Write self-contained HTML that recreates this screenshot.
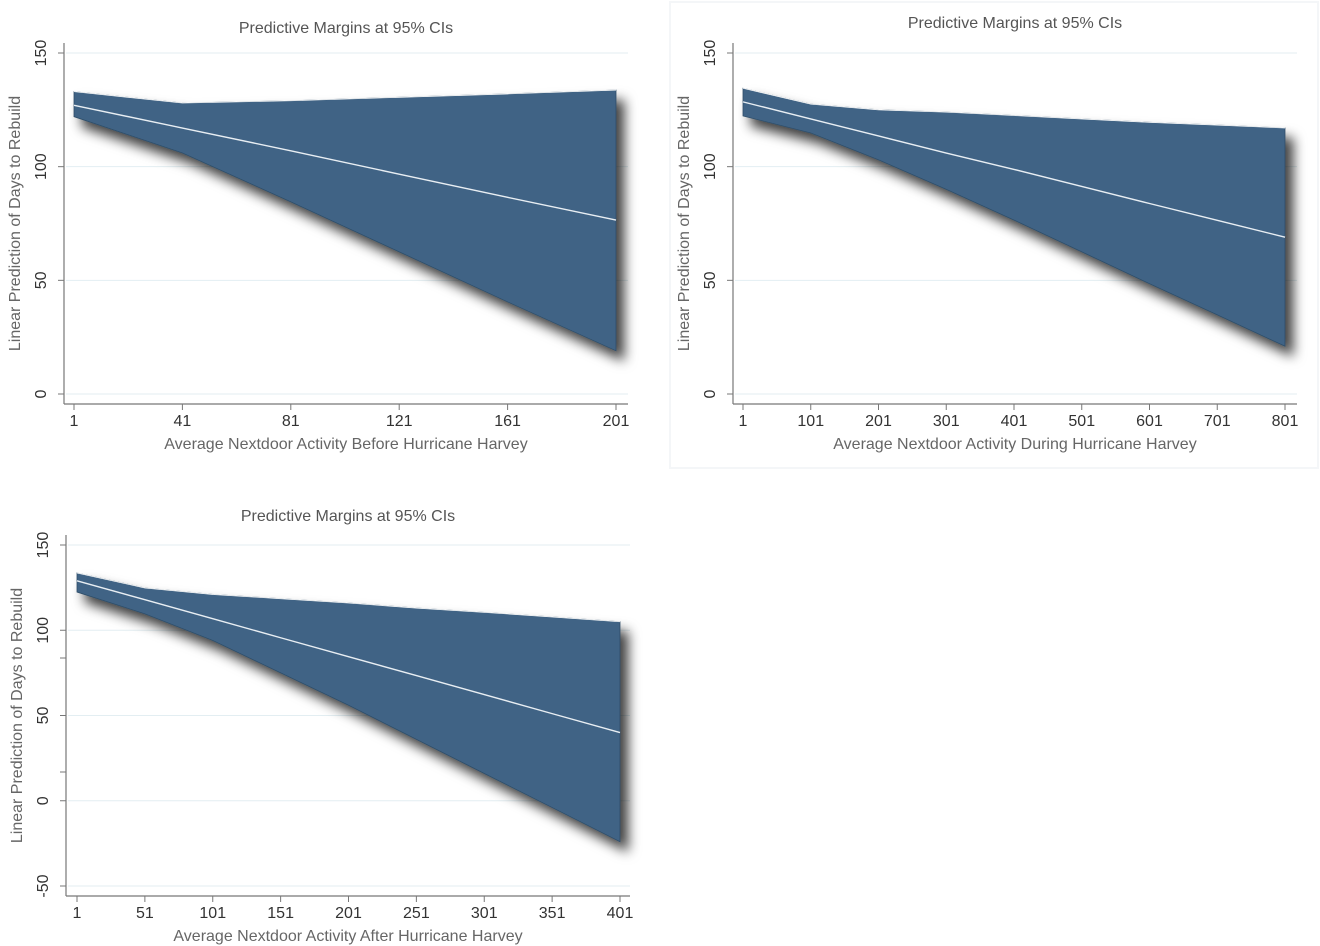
<!DOCTYPE html>
<html><head><meta charset="utf-8">
<style>
html,body{margin:0;padding:0;background:#fff;}
svg{display:block;font-family:"Liberation Sans",sans-serif;}
</style></head>
<body>
<svg id="chart" width="1320" height="946" viewBox="0 0 1320 946" xmlns="http://www.w3.org/2000/svg">
<defs>
<filter id="sh" x="-20%" y="-20%" width="150%" height="150%">
<feDropShadow dx="8" dy="10" stdDeviation="6" flood-color="#000" flood-opacity="0.75"/>
</filter>
</defs>
<rect x="670" y="2" width="648" height="466" fill="none" stroke="#f4f6f8" stroke-width="2"/>
</svg>
<script>
// Panel 1: Before
const p1X = [1, 41, 81, 121, 161, 201];
const p1Upper = [133, 128, 129, 130.5, 132, 133.7];
const p1Lower = [122, 106, 84.5, 62.5, 40.5, 19];
const p1Mid = [127, 117, 107, 96.7, 86.5, 76.5];
const p1Ticks = ["1","41","81","121","161","201"];
// Panel 2: During
const p2X = [1, 101, 201, 301, 401, 501, 601, 701, 801];
const p2Upper = [134.5, 127.5, 125, 124, 122.5, 121, 119.5, 118.3, 117];
const p2Lower = [122.3, 114.8, 103, 90, 76.5, 62.5, 48.5, 34.8, 21];
const p2Mid = [128.5, 121, 113.5, 106, 98.8, 91.3, 83.8, 76.4, 69];
const p2Ticks = ["1","101","201","301","401","501","601","701","801"];
// Panel 3: After
const p3X = [1, 51, 101, 151, 201, 251, 301, 351, 401];
const p3Upper = [133.6, 124.8, 121, 118.5, 116, 113, 110.5, 107.8, 105];
const p3Lower = [122.4, 109.6, 94, 75, 56, 36, 16, -4, -24];
const p3Mid = [129, 117.9, 106.8, 95.6, 84.5, 73.4, 62.3, 51.1, 40];
const p3Ticks = ["1","51","101","151","201","251","301","351","401"];
const yTicks12 = [0, 50, 100, 150];
const yTicks3 = [-50, 0, 50, 100, 150];

const NS = "http://www.w3.org/2000/svg";
const svg = document.getElementById('chart');
function mk(tag, attrs, parent){
  const e = document.createElementNS(NS, tag);
  for (const k in attrs) e.setAttribute(k, attrs[k]);
  (parent||svg).appendChild(e);
  return e;
}
function panel(cfg, xs, up, lo, mid, xt, yt, pname){
  const g = mk('g', {});
  
  
  const sx = v => cfg.x0 + (v - cfg.xmin) / (cfg.xmax - cfg.xmin) * (cfg.x1 - cfg.x0);
  const sy = v => cfg.y0 + (cfg.ymax - v) / (cfg.ymax - cfg.ymin) * (cfg.y1 - cfg.y0);
  yt.forEach(v => {
    const l = mk('line', {x1: cfg.ax + 2, x2: cfg.xend, y1: sy(v), y2: sy(v), stroke: '#e3eef2', 'stroke-width': 1}, g);
    
    
  });
  const t = mk('text', {x: (cfg.ax + cfg.xend)/2, y: cfg.titleY, 'text-anchor': 'middle', 'font-size': 16, fill: '#555'}, g);
  t.textContent = 'Predictive Margins at 95% CIs';
  
  
  let d = '';
  xs.forEach((v,i) => { d += (i ? 'L' : 'M') + sx(v) + ',' + sy(up[i]); });
  for (let i = xs.length - 1; i >= 0; i--) d += 'L' + sx(xs[i]) + ',' + sy(lo[i]);
  d += 'Z';
  const band = mk('path', {d: d, fill: '#3f6485', stroke: '#2f4d68', 'stroke-width': 0.8, filter: 'url(#sh)'}, g);
  
  
  let du = '';
  xs.forEach((v,i) => { du += (i ? 'L' : 'M') + sx(v) + ',' + sy(up[i]); });
  const ue = mk('path', {d: du, fill: 'none', stroke: '#ffffff', 'stroke-width': 0.8}, g);
  
  
  let dm = '';
  xs.forEach((v,i) => { dm += (i ? 'L' : 'M') + sx(v) + ',' + sy(mid[i]); });
  const ml = mk('path', {d: dm, fill: 'none', stroke: '#e8eef3', 'stroke-width': 1.4}, g);
  
  
  const ya = mk('line', {x1: cfg.ax, x2: cfg.ax, y1: cfg.axTop, y2: cfg.axY, stroke: '#777', 'stroke-width': 1.2}, g);
  
  
  const xa = mk('line', {x1: cfg.ax, x2: cfg.xend, y1: cfg.axY, y2: cfg.axY, stroke: '#777', 'stroke-width': 1.2}, g);
  
  
  yt.forEach(v => {
    const y = sy(v);
    mk('line', {x1: cfg.ax - 6, x2: cfg.ax, y1: y, y2: y, stroke: '#777'}, g);
    const lab = mk('text', {x: cfg.ax - 18, y: y, 'text-anchor': 'middle', 'font-size': 16, fill: '#333', transform: `rotate(-90 ${cfg.ax - 18} ${y})`}, g);
    lab.textContent = String(v);
    
    
  });
  (cfg.extraTicks || []).forEach(y => mk('line', {x1: cfg.ax - 6, x2: cfg.ax, y1: y, y2: y, stroke: '#777'}, g));
  xs.forEach((v,i) => {
    const x = sx(v);
    mk('line', {x1: x, x2: x, y1: cfg.axY, y2: cfg.axY + 6, stroke: '#777'}, g);
    const lab = mk('text', {x: x, y: cfg.axY + 22, 'text-anchor': 'middle', 'font-size': 16, fill: '#333'}, g);
    lab.textContent = xt[i];
    
    
  });
  const xl = mk('text', {x: (cfg.ax + cfg.xend)/2, y: cfg.axY + 45, 'text-anchor': 'middle', 'font-size': 16, fill: '#666'}, g);
  xl.textContent = cfg.xlabel;
  
  
  const yx = cfg.ax - 44, yy = (cfg.axTop + cfg.axY)/2;
  const yl = mk('text', {x: yx, y: yy, 'text-anchor': 'middle', 'font-size': 16, fill: '#666', transform: `rotate(-90 ${yx} ${yy})`}, g);
  yl.textContent = 'Linear Prediction of Days to Rebuild';
  
  
}
panel({x0:74, x1:616, xmin:1, xmax:201, y0:53, y1:394, ymin:0, ymax:150, ax:64, axTop:43, axY:404, xend:628, titleY:33,
  xlabel:'Average Nextdoor Activity Before Hurricane Harvey'}, p1X, p1Upper, p1Lower, p1Mid, p1Ticks, yTicks12, 'panel-before');
panel({x0:743, x1:1285, xmin:1, xmax:801, y0:53, y1:394, ymin:0, ymax:150, ax:733, axTop:43, axY:404, xend:1297, titleY:28,
  xlabel:'Average Nextdoor Activity During Hurricane Harvey'}, p2X, p2Upper, p2Lower, p2Mid, p2Ticks, yTicks12, 'panel-during');
panel({x0:77, x1:620, xmin:1, xmax:401, y0:545, y1:886, ymin:-50, ymax:150, ax:66, axTop:535, axY:896, xend:630, titleY:521,
  extraTicks:[658,772],
  xlabel:'Average Nextdoor Activity After Hurricane Harvey'}, p3X, p3Upper, p3Lower, p3Mid, p3Ticks, yTicks3, 'panel-after');
</script>
</body></html>
